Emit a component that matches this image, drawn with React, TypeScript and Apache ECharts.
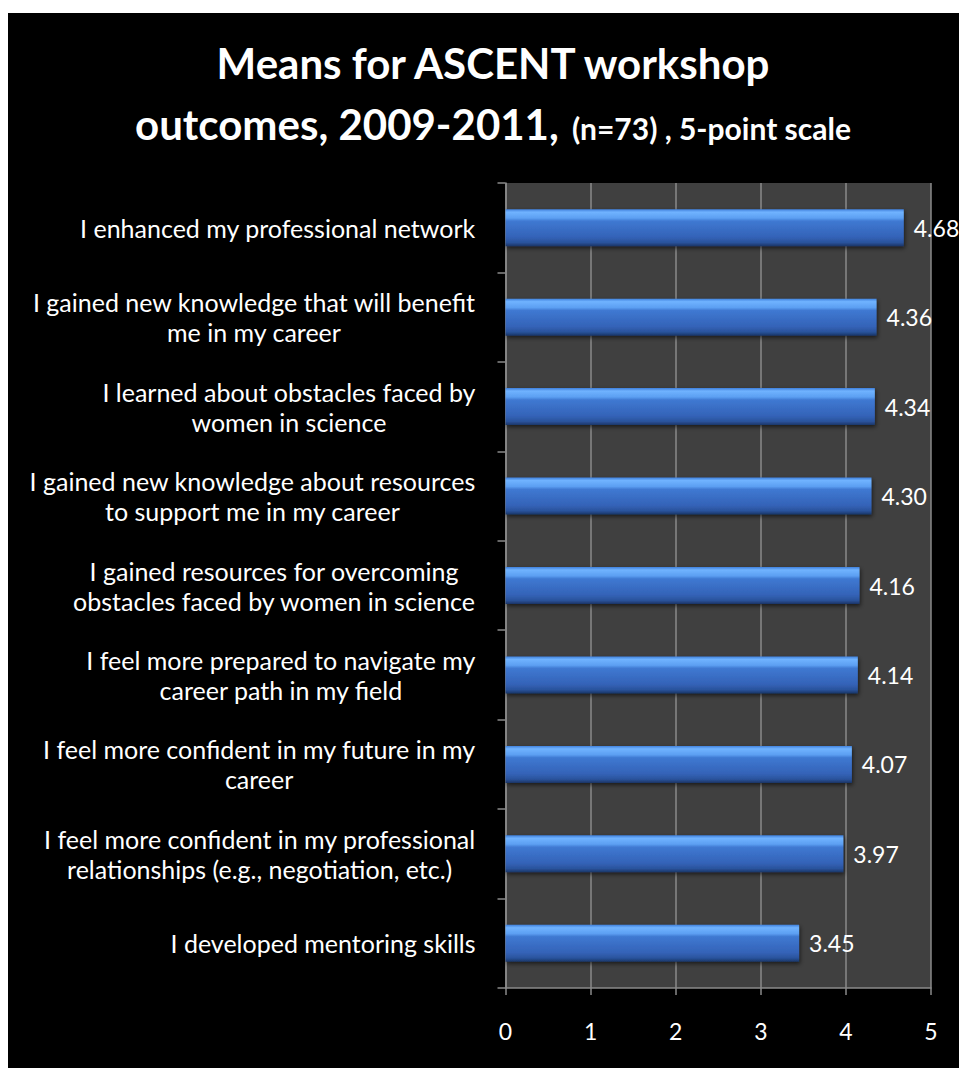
import React, { useEffect, useRef } from "react";
import * as echarts from "echarts";

const categories: string[] = [
  "I enhanced my professional network",
  "I gained new knowledge that will benefit\nme in my career",
  "I learned about obstacles faced by\nwomen in science",
  "I gained new knowledge about resources\nto support me in my career",
  "I gained resources for overcoming\nobstacles faced by women in science",
  "I feel more prepared to navigate my\ncareer path in my field",
  "I feel more confident in my future in my\ncareer",
  "I feel more confident in my professional\nrelationships (e.g., negotiation, etc.)",
  "I developed mentoring skills",
];

const means: number[] = [4.68, 4.36, 4.34, 4.3, 4.16, 4.14, 4.07, 3.97, 3.45];

const xTicks: number[] = [0, 1, 2, 3, 4, 5];

const titleMain = "Means for ASCENT workshop";
const titleLine2 = "outcomes, 2009-2011,";
const titleNote = "(n=73) , 5-point scale";

export default function App() {
  const ref = useRef<HTMLDivElement>(null);

  useEffect(() => {
    if (!ref.current) return;
    const chart = echarts.init(ref.current, null, { renderer: "svg" });
    const font = "Lato, 'Open Sans', sans-serif";
    const barGradient = new echarts.graphic.LinearGradient(0, 0, 0, 1, [
      { offset: 0, color: "#3f80dc" },
      { offset: 0.08, color: "#70b3ff" },
      { offset: 0.24, color: "#5c9ff2" },
      { offset: 0.32, color: "#3f79d2" },
      { offset: 0.75, color: "#3463b8" },
      { offset: 0.9, color: "#2a539c" },
      { offset: 1, color: "#1a3566" },
    ]);
    chart.setOption({
      animation: false,
      backgroundColor: "#000000",
      title: {
        text: `{a|${titleMain}}\n{a|${titleLine2}}   {b|${titleNote}}`,
        left: 480,
        top: 14,
        textAlign: "center",
        textStyle: {
          color: "#ffffff",
          fontFamily: font,
          rich: {
            a: {
              color: "#ffffff",
              fontFamily: font,
              fontWeight: "bold",
              fontSize: 42,
              lineHeight: 61,
            },
            b: {
              color: "#ffffff",
              fontFamily: font,
              fontWeight: "bold",
              fontSize: 30,
              lineHeight: 61,
              padding: [9, 0, 0, 0],
            },
          },
        },
      },
      grid: {
        left: 497.5,
        right: 28,
        top: 170,
        bottom: 80,
        show: true,
        backgroundColor: "#404040",
        borderWidth: 0,
      },
      xAxis: {
        type: "value",
        min: 0,
        max: 5,
        interval: 1,
        axisLine: { show: true, lineStyle: { color: "#8a8a8a", width: 1.5 } },
        axisTick: { show: true, length: 7, lineStyle: { color: "#8a8a8a", width: 1.5 } },
        splitLine: { show: true, lineStyle: { color: "#8a8a8a", width: 1.5 } },
        axisLabel: {
          color: "#ffffff",
          fontFamily: font,
          fontSize: 23,
          margin: 31,
          formatter: (v: number) => (xTicks.includes(v) ? String(v) : ""),
        },
      },
      yAxis: {
        type: "category",
        data: categories,
        inverse: true,
        axisLine: { show: true, lineStyle: { color: "#8a8a8a", width: 1.5 } },
        axisTick: { show: true, length: 8, lineStyle: { color: "#8a8a8a", width: 1.5 } },
        axisLabel: {
          color: "#ffffff",
          fontFamily: font,
          fontSize: 25,
          lineHeight: 30,
          margin: 30,
          align: "right",
          formatter: (v: string) =>
            v
              .split("\n")
              .map((l) => `{c|${l}}`)
              .join("\n"),
          rich: {
            c: {
              color: "#ffffff",
              fontFamily: font,
              fontSize: 25,
              lineHeight: 30,
              align: "center",
            },
          },
        },
      },
      series: [
        {
          type: "bar",
          data: means,
          barWidth: 37,
          itemStyle: {
            color: barGradient,
            shadowBlur: 4,
            shadowColor: "rgba(0,0,0,0.6)",
            shadowOffsetY: 2,
            shadowOffsetX: 1,
          },
          label: {
            show: true,
            position: "right",
            distance: 10,
            color: "#ffffff",
            fontFamily: font,
            fontSize: 23,
            formatter: (p: any) => Number(p.value).toFixed(2),
          },
        },
      ],
    });
    return () => chart.dispose();
  }, []);

  return (
    <div
      ref={ref}
      style={{ position: "absolute", left: 8, top: 13, width: 951, height: 1055 }}
    />
  );
}
